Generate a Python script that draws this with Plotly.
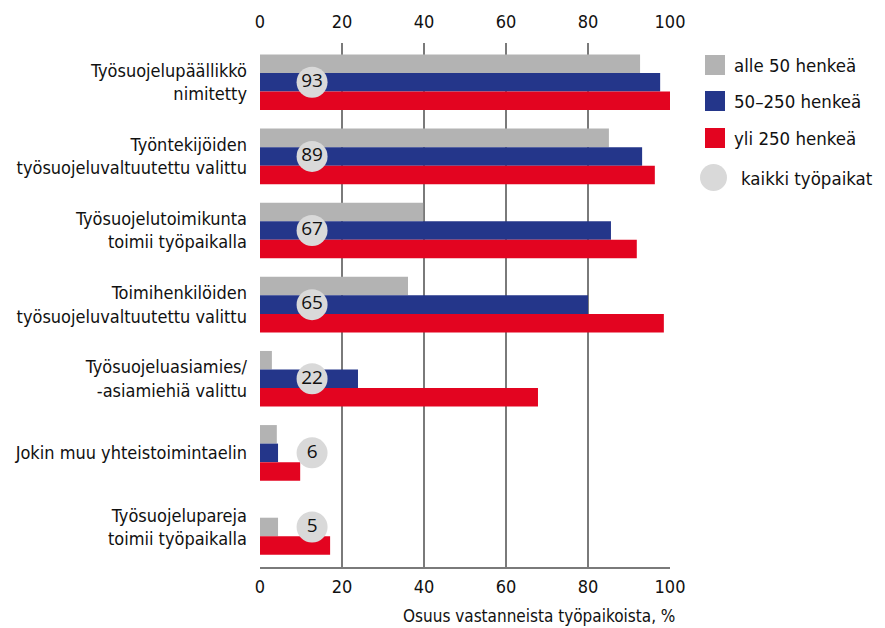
import plotly.graph_objects as go

categories = [
    "Työsuojelupäällikkö<br>nimitetty",
    "Työntekijöiden<br>työsuojeluvaltuutettu valittu",
    "Työsuojelutoimikunta<br>toimii työpaikalla",
    "Toimihenkilöiden<br>työsuojeluvaltuutettu valittu",
    "Työsuojeluasiamies/<br>-asiamiehiä valittu",
    "Jokin muu yhteistoimintaelin",
    "Työsuojelupareja<br>toimii työpaikalla",
]
alle50 = [92.7, 85.1, 39.8, 36.1, 2.9, 4.1, 4.4]
v50_250 = [97.6, 93.2, 85.6, 80.0, 23.9, 4.4, 0]
yli250 = [100.0, 96.3, 91.9, 98.5, 67.8, 9.8, 17.1]
kaikki = [93, 89, 67, 65, 22, 6, 5]
series_names = ["alle 50 henkeä", "50–250 henkeä", "yli 250 henkeä", "kaikki työpaikat"]
x_ticks = [0, 20, 40, 60, 80, 100]
x_title = "Osuus vastanneista työpaikoista, %"

C_GRAY = "#b3b3b3"
C_BLUE = "#24368a"
C_RED = "#e30420"
C_CIRCLE = "#d9d9d9"
FONT = "Liberation Sans Narrow, DejaVu Sans Condensed, sans-serif"

W = 0.25
n = len(categories)
# the gray bar of the last group sits in the middle slot (as in the original)
gray_off = [-1.5 * W] * (n - 1) + [-0.5 * W]

fig = go.Figure()
fig.add_bar(y=categories, x=alle50, orientation="h", name=series_names[0],
            marker=dict(color=C_GRAY, line=dict(width=0)), width=W, offset=gray_off,
            showlegend=False)
fig.add_bar(y=categories, x=v50_250, orientation="h", name=series_names[1],
            marker=dict(color=C_BLUE, line=dict(width=0)), width=W, offset=-0.5 * W,
            showlegend=False)
fig.add_bar(y=categories, x=yli250, orientation="h", name=series_names[2],
            marker=dict(color=C_RED, line=dict(width=0)), width=W, offset=0.5 * W,
            showlegend=False)
CIRCLE_X = 12.7
fig.add_scatter(y=categories, x=[CIRCLE_X] * n, xaxis="x2", mode="markers+text",
                text=[str(v) for v in kaikki], textposition="middle center",
                textfont=dict(family="Open Sans, DejaVu Sans, sans-serif", size=19, color="#111"),
                marker=dict(size=31, color=C_CIRCLE, line=dict(width=0)),
                name=series_names[3], showlegend=False, cliponaxis=False)

# plot area pixel geometry
L, R, T, B = 260, 670, 43, 567
PW, PH = R - L, B - T


def px(xp):
    return (xp - L) / PW


def py(yp):
    return (B - yp) / PH


shapes = []
annotations = []
leg_colors = [C_GRAY, C_BLUE, C_RED]
leg_y = [65, 101, 138]
LEG_FONT = dict(family=FONT, size=18.5, color="#111")
for c, yc, name in zip(leg_colors, leg_y, series_names[:3]):
    shapes.append(dict(type="rect", xref="paper", yref="paper",
                       x0=px(705), x1=px(725), y0=py(yc + 10), y1=py(yc - 10),
                       fillcolor=c, line=dict(width=0)))
    annotations.append(dict(xref="paper", yref="paper", x=px(732), y=py(yc),
                            xanchor="left", yanchor="middle", showarrow=False,
                            text=name, font=LEG_FONT))
shapes.append(dict(type="circle", xref="paper", yref="paper",
                   x0=px(700), x1=px(727), y0=py(191), y1=py(164),
                   fillcolor=C_CIRCLE, line=dict(width=0)))
annotations.append(dict(xref="paper", yref="paper", x=px(739), y=py(178),
                        xanchor="left", yanchor="middle", showarrow=False,
                        text=series_names[3], font=LEG_FONT))
annotations.append(dict(xref="paper", yref="paper", x=px(677), y=py(616),
                        xanchor="right", yanchor="middle", showarrow=False,
                        text=x_title, font=dict(family=FONT, size=17, color="#111")))

fig.update_layout(
    width=885, height=628,
    margin=dict(l=L, r=885 - R, t=T, b=628 - B, pad=0, autoexpand=False),
    paper_bgcolor="white", plot_bgcolor="white",
    barmode="overlay",
    showlegend=False,
    font=dict(family=FONT, size=18, color="#111"),
    xaxis=dict(range=[0, 100], tickvals=x_ticks, ticktext=[str(t) for t in x_ticks],
               showgrid=True, gridcolor="#7a7a7a", gridwidth=1.5, automargin=False,
               zeroline=False, showline=True, linecolor="#7a7a7a", linewidth=1.5,
               ticks="", ticklabelstandoff=3,
               tickfont=dict(family=FONT, size=18, color="#111")),
    xaxis2=dict(range=[0, 100], matches="x", overlaying="x", side="top",
                tickvals=x_ticks, ticktext=[str(t) for t in x_ticks], automargin=False,
                showgrid=False, zeroline=False, showline=False, ticks="",
                ticklabelstandoff=10,
                tickfont=dict(family=FONT, size=18, color="#111")),
    yaxis=dict(range=[n - 0.46, -0.53], type="category", showgrid=False, automargin=False,
               zeroline=False, showline=False, ticks="", ticklabelstandoff=12,
               tickfont=dict(family=FONT, size=18, color="#111")),
    shapes=shapes,
    annotations=annotations,
)

fig.write_html("out.html", config={"displayModeBar": False},
               post_script="document.body.style.margin='0';")
